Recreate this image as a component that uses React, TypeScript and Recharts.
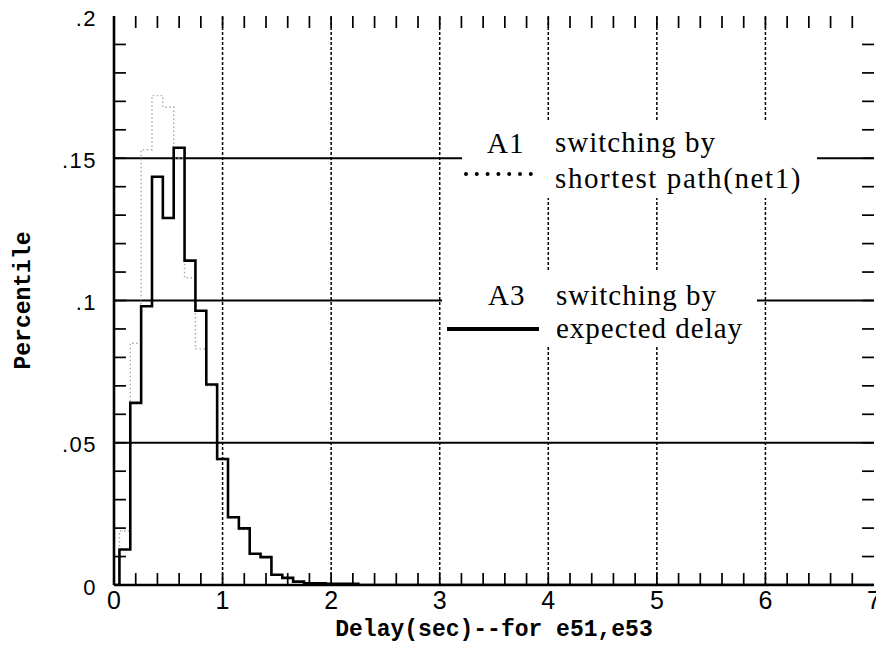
import React from 'react';
import { ComposedChart, Line, XAxis, YAxis, ReferenceLine } from 'recharts';

// Histogram bin left edges (Delay, sec)
const binEdges = [0, 0.05, 0.15, 0.25, 0.35, 0.45, 0.55, 0.65, 0.75, 0.85, 0.95, 1.05, 1.15, 1.25, 1.35, 1.45, 1.55, 1.65, 1.75, 1.95, 2.25, 7];
// A3 switching by expected delay (solid)
const seriesA3 = [0, 0.0125, 0.064, 0.098, 0.1435, 0.129, 0.1537, 0.114, 0.0964, 0.0705, 0.0443, 0.0238, 0.0199, 0.011, 0.0098, 0.0036, 0.0025, 0.0012, 0.0006, 0.0004, 0, 0];
// A1 switching by shortest path(net1) (dotted, faint)
const seriesA1 = [0, 0.019, 0.085, 0.153, 0.172, 0.168, 0.15, 0.108, 0.083, 0.07, 0.044, 0.0235, 0.0195, 0.0108, 0.0097, 0.0035, 0.0024, 0.0011, 0.0005, 0.0003, 0, 0];

const xLabelValues = [0, 1, 2, 3, 4, 5, 6, 7];
const xLabels = ['0', '1', '2', '3', '4', '5', '6', '7'];
const yLabelValues = [0, 0.05, 0.1, 0.15, 0.2];
const yLabels = ['0', '.05', '.1', '.15', '.2'];
const xGridValues = [1, 2, 3, 4, 5, 6];
const yGridValues = [0.05, 0.1, 0.15];

const X_MIN = 0, X_MAX = 7, Y_MIN = 0, Y_MAX = 0.2;
// minor tick marks every 0.2 on x, every 0.01 on y (drawn inward)
const xMinor = Array.from({ length: 34 }, (_, i) => +((i + 1) * 0.2).toFixed(2)).filter((v) => v < X_MAX);
const yMinor = Array.from({ length: 19 }, (_, i) => +((i + 1) * 0.01).toFixed(2)).filter((v) => v < Y_MAX);
const X_TICK_LEN = 0.11; // ~12px in x units
const Y_TICK_LEN = 0.0042; // ~12px in y units

const data = binEdges.map((x, i) => ({ x, a3: seriesA3[i], a1: seriesA1[i] }));

const labelFor = (v: number, values: number[], labels: string[]) => {
  const i = values.findIndex((t) => Math.abs(t - v) < 1e-6);
  return i >= 0 ? labels[i] : '';
};

const BottomTick = (props: any) => {
  const { x, y, payload } = props;
  const lab = labelFor(payload.value, xLabelValues, xLabels);
  return (
    <text x={x} y={y + 24} textAnchor="middle" fontFamily="'Liberation Sans Narrow', 'Liberation Sans', sans-serif" fontSize={25} fill="#000">
      {lab}
    </text>
  );
};

const LeftTick = (props: any) => {
  const { x, y, payload } = props;
  const lab = labelFor(payload.value, yLabelValues, yLabels);
  return (
    <text x={x - 17} y={y + 2} textAnchor="end" dominantBaseline="central" fontFamily="'Liberation Sans', sans-serif" fontSize={22} letterSpacing={1.5} fill="#000">
      {lab}
    </text>
  );
};

const legendFont = "'Liberation Serif', 'Times New Roman', serif";
const frameStyle = { stroke: '#000', strokeWidth: 2.6 };
const tickStroke = { stroke: '#000', strokeWidth: 1.7 };

export default function App() {
  const W = 876;
  const H = 639;
  return (
    <div style={{ position: 'relative', width: W, height: H }}>
      <ComposedChart width={W} height={H} data={data} margin={{ top: 8, right: 10, left: 0, bottom: 0 }}>
        <XAxis
          dataKey="x"
          type="number"
          domain={[X_MIN, X_MAX]}
          ticks={xLabelValues}
          interval={0}
          tickSize={0}
          tickMargin={0}
          tick={<BottomTick />}
          tickLine={false}
          axisLine={frameStyle}
          height={62}
          allowDataOverflow
          label={{
            value: 'Delay(sec)--for e51,e53',
            position: 'insideBottom',
            offset: 11,
            style: { fontFamily: "'Liberation Mono', 'DejaVu Sans Mono', monospace", fontWeight: 'bold', fontSize: 23, fill: '#000' },
          }}
        />
        <XAxis
          xAxisId="top"
          orientation="top"
          type="number"
          dataKey="x"
          domain={[X_MIN, X_MAX]}
          tick={false}
          tickLine={false}
          axisLine={frameStyle}
          height={0}
          allowDataOverflow
        />
        <YAxis
          type="number"
          domain={[Y_MIN, Y_MAX]}
          ticks={yLabelValues}
          interval={0}
          tickSize={0}
          tickMargin={0}
          tick={<LeftTick />}
          tickLine={false}
          axisLine={frameStyle}
          width={106}
          allowDataOverflow
          label={{
            value: 'Percentile',
            angle: -90,
            position: 'insideLeft',
            offset: 14,
            style: { fontFamily: "'Liberation Mono', 'DejaVu Sans Mono', monospace", fontWeight: 'bold', fontSize: 23, fill: '#000', textAnchor: 'middle' },
          }}
        />
        <YAxis
          yAxisId="r"
          orientation="right"
          type="number"
          domain={[Y_MIN, Y_MAX]}
          tick={false}
          tickLine={false}
          axisLine={frameStyle}
          width={0}
          allowDataOverflow
        />
        {yGridValues.map((v) => (
          <ReferenceLine key={'h' + v} y={v} stroke="#000" strokeWidth={1.8} />
        ))}
        {xGridValues.map((v) => (
          <ReferenceLine key={'v' + v} x={v} stroke="#000" strokeWidth={1.5} strokeDasharray="3 2" />
        ))}
        <Line dataKey="a1" type="stepAfter" stroke="#aaa" strokeWidth={1.4} strokeDasharray="1.5 2.5" dot={false} activeDot={false} isAnimationActive={false} />
        <Line dataKey="a3" type="stepAfter" stroke="#000" strokeWidth={2.6} dot={false} activeDot={false} isAnimationActive={false} />
        {xMinor.map((v) => (
          <ReferenceLine key={'xt' + v} zIndex={1500} ifOverflow="visible" segment={[{ x: v, y: Y_MAX }, { x: v, y: Y_MAX - Y_TICK_LEN }]} {...tickStroke} />
        ))}
        {yMinor.map((v) => (
          <ReferenceLine key={'yr' + v} zIndex={1500} ifOverflow="visible" segment={[{ x: X_MAX, y: v }, { x: X_MAX - X_TICK_LEN, y: v }]} {...tickStroke} />
        ))}
        {xMinor.map((v) => (
          <ReferenceLine key={'xb' + v} zIndex={1500} ifOverflow="visible" segment={[{ x: v, y: Y_MIN + Y_TICK_LEN }, { x: v, y: Y_MIN }]} {...tickStroke} />
        ))}
        {yMinor.map((v) => (
          <ReferenceLine key={'yl' + v} zIndex={1500} ifOverflow="visible" segment={[{ x: X_MIN + X_TICK_LEN, y: v }, { x: X_MIN, y: v }]} {...tickStroke} />
        ))}
      </ComposedChart>
      <svg width={W} height={H} style={{ position: 'absolute', left: 0, top: 0, pointerEvents: 'none' }}>
        <rect x={454} y={112} width={355} height={78} fill="#fff" />
        <text x={479} y={145} fontFamily={legendFont} fontSize={29} letterSpacing={1} fill="#000">A1</text>
        <text x={547} y={144} fontFamily={legendFont} fontSize={29} letterSpacing={1} fill="#000">switching by</text>
        <line x1={458} x2={524} y1={166} y2={166} stroke="#000" strokeWidth={4} strokeLinecap="round" strokeDasharray="0 10.8" />
        <text x={547} y={180} fontFamily={legendFont} fontSize={29} letterSpacing={1.6} fill="#000">shortest path(net1)</text>
        <rect x={434} y={264} width={315} height={73} fill="#fff" />
        <text x={480} y={297} fontFamily={legendFont} fontSize={29} letterSpacing={1} fill="#000">A3</text>
        <text x={548} y={297} fontFamily={legendFont} fontSize={29} letterSpacing={1} fill="#000">switching by</text>
        <line x1={439} x2={531} y1={321} y2={321} stroke="#000" strokeWidth={4} />
        <text x={548} y={330} fontFamily={legendFont} fontSize={29} letterSpacing={1} fill="#000">expected delay</text>
      </svg>
    </div>
  );
}
